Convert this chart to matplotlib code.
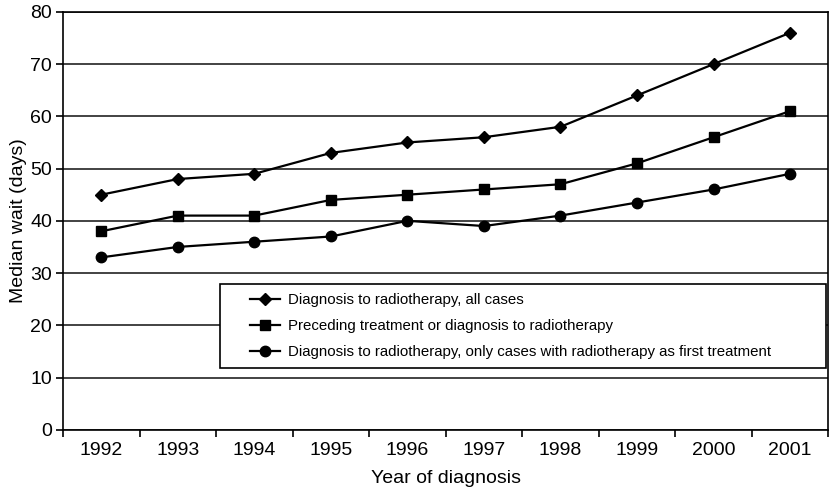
import matplotlib
matplotlib.use("Agg")
import matplotlib.pyplot as plt
from matplotlib.patches import Rectangle
import numpy as np

plt.rcParams["font.family"] = ["Liberation Sans", "DejaVu Sans"]

# 数据
years = ["1992", "1993", "1994", "1995", "1996", "1997", "1998", "1999", "2000", "2001"]
all_cases = [45, 48, 49, 53, 55, 56, 58, 64, 70, 76]
preceding = [38, 41, 41, 44, 45, 46, 47, 51, 56, 61]
first_treat = [33, 35, 36, 37, 40, 39, 41, 43.5, 46, 49]
labels = ["Diagnosis to radiotherapy, all cases",
          "Preceding treatment or diagnosis to radiotherapy",
          "Diagnosis to radiotherapy, only cases with radiotherapy as first treatment"]

fig = plt.figure(figsize=(8.3, 4.94), dpi=100)
ax = fig.add_axes([0.076, 0.130, 0.922, 0.846])

x = np.arange(len(years))
ax.plot(x, all_cases, color="black", lw=1.6, marker="D", ms=6, label=labels[0])
ax.plot(x, preceding, color="black", lw=1.6, marker="s", ms=7.5, label=labels[1])
ax.plot(x, first_treat, color="black", lw=1.6, marker="o", ms=7.5, label=labels[2])

ax.set_xlim(-0.5, len(years) - 0.5)
ax.set_ylim(0, 80)
ax.set_yticks(range(0, 81, 10))
ax.yaxis.grid(True, color="#222222", lw=1.2)
ax.set_axisbelow(True)

# 类别刻度：刻度线在类别之间
ax.set_xticks(np.arange(-0.5, len(years), 1.0))
ax.set_xticklabels([])
ax.set_xticks(x, minor=True)
ax.set_xticklabels(years, minor=True, fontsize=14)
ax.tick_params(axis="x", which="minor", length=0, pad=9)
ax.tick_params(axis="x", which="major", length=5, width=1.2, direction="out")
ax.tick_params(axis="y", labelsize=14, length=5, width=1.2, pad=3)

for s in ax.spines.values():
    s.set_color("black")
    s.set_linewidth(1.2)

ax.set_xlabel("Year of diagnosis", fontsize=14, labelpad=8)
ax.set_ylabel("Median wait (days)", fontsize=14, labelpad=2)

# 图例框
ax.add_patch(Rectangle((0.205, 0.148), 0.792, 0.201, transform=ax.transAxes,
                       facecolor="white", edgecolor="black", lw=1.2, zorder=3))
leg = ax.legend(loc="center left", bbox_to_anchor=(0.2445, 0.2485),
                borderaxespad=0, borderpad=0, fontsize=10.8, frameon=False,
                handlelength=2.0, handletextpad=0.55, labelspacing=0.8)

plt.savefig("out.png", dpi=100)
